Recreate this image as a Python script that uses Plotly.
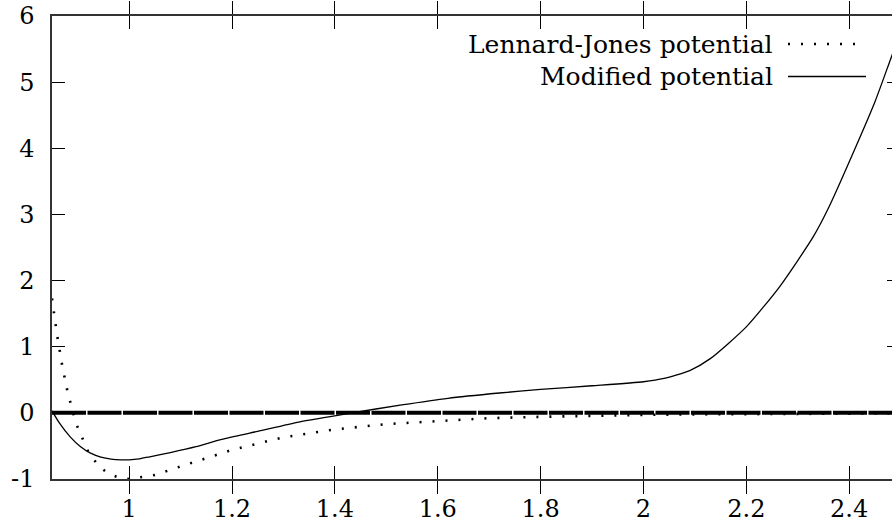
import plotly.graph_objects as go

# Lennard-Jones potential (dotted)
lj_x = [0.85, 0.86, 0.87, 0.88, 0.89, 0.90, 0.92, 0.94, 0.96, 0.98, 1.00, 1.05,
        1.10, 1.15, 1.20, 1.30, 1.40, 1.50, 1.60, 1.70, 1.80, 1.90, 2.00, 2.10,
        2.20, 2.30, 2.40, 2.50]
lj_y = [1.73, 1.17, 0.71, 0.33, 0.03, -0.22, -0.58, -0.80, -0.92, -0.98, -1.00, -0.94,
        -0.81, -0.68, -0.56, -0.37, -0.25, -0.17, -0.12, -0.08, -0.06, -0.04, -0.03, -0.023,
        -0.018, -0.014, -0.010, -0.008]

# Modified potential (solid)
mod_x = [0.85, 0.865, 0.885, 0.905, 0.925, 0.945, 0.965, 0.985, 1.00, 1.02, 1.04,
         1.08, 1.13, 1.18, 1.25, 1.33, 1.43, 1.53, 1.62, 1.72, 1.80, 1.90, 2.00,
         2.04, 2.09, 2.13, 2.20, 2.265, 2.33, 2.36, 2.41, 2.45, 2.483, 2.50]
mod_y = [0.03, -0.16, -0.36, -0.51, -0.61, -0.67, -0.70, -0.71, -0.71, -0.695, -0.665,
         -0.60, -0.51, -0.40, -0.28, -0.14, -0.005, 0.12, 0.22, 0.30, 0.355, 0.41, 0.47,
         0.52, 0.64, 0.82, 1.30, 1.91, 2.66, 3.10, 3.97, 4.70, 5.40, 5.75]

x_ticks = [1.0, 1.2, 1.4, 1.6, 1.8, 2.0, 2.2, 2.4]
x_tick_labels = ["1", "1.2", "1.4", "1.6", "1.8", "2", "2.2", "2.4"]
y_ticks = [-1, 0, 1, 2, 3, 4, 5, 6]
y_tick_labels = ["-1", "0", "1", "2", "3", "4", "5", "6"]

series_names = ["Lennard-Jones potential", "Modified potential"]

FONT = "DejaVu Serif"
W, H = 892, 527
ML, MR, MT, MB = 52, 0, 16, 48
x_range = [0.85, 0.85 + (W - ML - MR) / 514.3]
y_range = [-1, 6]

fig = go.Figure()
fig.add_trace(go.Scatter(x=lj_x, y=lj_y, mode="lines", name=series_names[0],
                         line=dict(color="black", width=2.6, dash="2px,11px"),
                         showlegend=False))
fig.add_trace(go.Scatter(x=mod_x, y=mod_y, mode="lines", name=series_names[1],
                         line=dict(color="black", width=1.3, shape="spline", smoothing=0.6),
                         showlegend=False))
# invisible helper trace so the right-hand tick axis is drawn
fig.add_trace(go.Scatter(x=mod_x, y=mod_y, mode="lines", yaxis="y2", opacity=0,
                         line=dict(width=0), hoverinfo="skip", showlegend=False))

pw = W - ML - MR
ph = H - MT - MB

def px2paper_x(px):
    return (px - ML) / pw

def py2paper_y(py):
    return 1 - (py - MT) / ph

# zero axis (thick, with small gaps)
fig.add_shape(type="line", xref="paper", x0=0, x1=1, yref="y", y0=0, y1=0,
              line=dict(color="black", width=4, dash="34px,1.5px"), layer="above")

# key
key_rows = [44, 76.5]
key_dash = ["2px,11px", "solid"]
key_width = [2.6, 1.3]
for name, row, dsh, lw in zip(series_names, key_rows, key_dash, key_width):
    fig.add_annotation(xref="paper", yref="paper", x=px2paper_x(775), y=py2paper_y(row),
                       xanchor="right", yanchor="middle", text=name, showarrow=False,
                       font=dict(family=FONT, size=25, color="black"))
    fig.add_shape(type="line", xref="paper", yref="paper",
                  x0=px2paper_x(788), x1=px2paper_x(866),
                  y0=py2paper_y(row), y1=py2paper_y(row),
                  line=dict(color="black", width=lw, dash=dsh))

fig.update_layout(
    width=W, height=H,
    margin=dict(l=ML, r=MR, t=MT, b=MB, autoexpand=False),
    paper_bgcolor="white", plot_bgcolor="white",
    font=dict(family=FONT, size=24, color="black"),
    xaxis=dict(range=x_range, tickvals=x_ticks, ticktext=x_tick_labels,
               ticks="inside", ticklen=13, tickwidth=1, tickcolor="black",
               showline=True, linecolor="#333", linewidth=1.5, mirror="allticks",
               showgrid=False, zeroline=False, ticklabelstandoff=7, automargin=False,
               ticklabeloverflow="allow"),
    yaxis=dict(range=y_range, tickvals=y_ticks, ticktext=y_tick_labels,
               ticks="inside", ticklen=13, tickwidth=1, tickcolor="black",
               showline=True, linecolor="#333", linewidth=1.5, mirror=False,
               showgrid=False, zeroline=False, ticklabelstandoff=11, automargin=False,
               ticklabeloverflow="allow"),
    yaxis2=dict(range=y_range, tickvals=y_ticks, overlaying="y", side="right",
                ticks="inside", ticklen=5, tickwidth=1, tickcolor="black",
                showticklabels=False, showline=False, showgrid=False, zeroline=False,
                automargin=False),
)

fig.write_html("out.html",
               config={"displayModeBar": False},
               post_script="document.body.style.margin='0';document.body.style.overflow='hidden';")
